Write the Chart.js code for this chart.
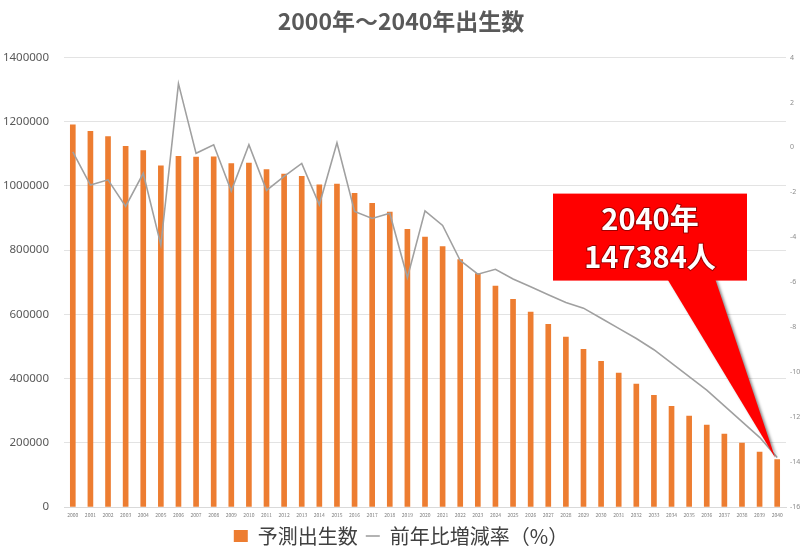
<!DOCTYPE html>
<html lang="ja">
<head>
<meta charset="UTF-8">
<title>2000年～2040年出生数</title>
<script src="https://cdn.jsdelivr.net/npm/chart.js@4.4.1/dist/chart.umd.min.js"></script>
<style>
    html, body { margin: 0; padding: 0; background: #ffffff; }
    #wrap { width: 800px; height: 552px; }
</style>
</head>
<body>
<div id="wrap"><canvas id="birthChart" width="800" height="552"></canvas></div>
<script>
// ===== DATA =====
const years = [
    '2000', '2001', '2002', '2003', '2004', '2005', '2006', '2007', '2008', '2009',
    '2010', '2011', '2012', '2013', '2014', '2015', '2016', '2017', '2018', '2019',
    '2020', '2021', '2022', '2023', '2024', '2025', '2026', '2027', '2028', '2029',
    '2030', '2031', '2032', '2033', '2034', '2035', '2036', '2037', '2038', '2039', '2040'
];

// 予測出生数 (人)
const births = [
    1190547, 1170662, 1153855, 1123610, 1110721, 1062530, 1092674, 1089818, 1091156, 1070035,
    1071304, 1050806, 1037231, 1029816, 1003539, 1005677, 976978, 946146, 918400, 865239,
    840835, 811604, 770759, 727277, 688000, 647000, 607000, 569000, 529000, 491000,
    454000, 417000, 383000, 348000, 314000, 283000, 255000, 227000, 199000, 171000, 147384
];

// 前年比増減率 (%)
const changeRate = [
    -0.2, -1.67, -1.44, -2.62, -1.15, -4.34, 2.84, -0.26, 0.12, -1.94,
    0.12, -1.91, -1.29, -0.71, -2.55, 0.21, -2.85, -3.16, -2.93, -5.79,
    -2.82, -3.47, -5.03, -5.64, -5.42, -5.85, -6.2, -6.55, -6.9, -7.15,
    -7.6, -8.05, -8.5, -9.0, -9.6, -10.2, -10.8, -11.5, -12.2, -12.9, -13.8
];

const leftTicks = [0, 200000, 400000, 600000, 800000, 1000000, 1200000, 1400000];
const rightTicks = [4, 2, 0, -2, -4, -6, -8, -10, -12, -14, -16];

const calloutLines = ['2040年', '147384人'];

// ===== CHART.JS CONFIGURATION =====
Chart.defaults.font.family = '"Noto Sans CJK JP", "Noto Sans", sans-serif';
Chart.defaults.color = '#595959';

// Red speech-bubble callout pointing at the last bar
const calloutPlugin = {
    id: 'callout',
    afterDatasetsDraw(chart) {
        const ctx = chart.ctx;
        const area = chart.chartArea;
        const xScale = chart.scales.x;
        const yScale = chart.scales.y;
        const last = births.length - 1;
        const tipX = xScale.getPixelForValue(last) - 2;
        const tipY = yScale.getPixelForValue(births[last]) - 2;

        const boxW = 194;
        const boxH = 87;
        const boxX = area.right - 39 - boxW;
        const boxY = area.top + 136;

        ctx.save();
        // pointer
        ctx.shadowColor = 'rgba(0, 0, 0, 0.45)';
        ctx.shadowBlur = 3;
        ctx.shadowOffsetX = 2;
        ctx.shadowOffsetY = 1;
        ctx.fillStyle = '#ff0000';
        ctx.beginPath();
        ctx.moveTo(boxX + 114, boxY + boxH - 2);
        ctx.lineTo(boxX + 162, boxY + boxH - 2);
        ctx.lineTo(tipX, tipY);
        ctx.closePath();
        ctx.fill();
        // box
        ctx.shadowColor = 'transparent';
        ctx.fillRect(boxX, boxY, boxW, boxH);

        // text
        ctx.font = 'bold 29px "Noto Sans CJK JP", "Noto Sans", sans-serif';
        ctx.textAlign = 'center';
        ctx.textBaseline = 'middle';
        ctx.lineWidth = 2;
        ctx.strokeStyle = 'rgba(90, 0, 0, 0.6)';
        ctx.fillStyle = '#ffffff';
        calloutLines.forEach((line, i) => {
            const cy = boxY + 25 + i * 38;
            ctx.strokeText(line, boxX + boxW / 2, cy);
            ctx.fillText(line, boxX + boxW / 2, cy);
        });
        ctx.restore();
    }
};

function createBirthChart() {
    const ctx = document.getElementById('birthChart');

    new Chart(ctx, {
        type: 'bar',
        data: {
            labels: years,
            datasets: [
                {
                    type: 'bar',
                    label: '予測出生数',
                    data: births,
                    backgroundColor: '#ed7d31',
                    barThickness: 5,
                    yAxisID: 'y',
                    order: 1,
                    pointStyle: 'rect'
                },
                {
                    type: 'line',
                    label: '前年比増減率（%）',
                    data: changeRate,
                    borderColor: '#a0a0a0',
                    backgroundColor: '#a0a0a0',
                    borderWidth: 1.6,
                    tension: 0,
                    pointRadius: 0,
                    fill: false,
                    yAxisID: 'y1',
                    order: 0,
                    pointStyle: 'line'
                }
            ]
        },
        options: {
            responsive: false,
            animation: false,
            layout: {
                // legend's own bottom gap hangs below the canvas edge
                padding: { left: 2, right: 0, top: 0, bottom: -4 }
            },
            plugins: {
                title: {
                    display: true,
                    text: '2000年～2040年出生数',
                    color: '#595959',
                    font: { size: 23, weight: 'bold' },
                    padding: { top: 7, bottom: 23 }
                },
                legend: {
                    position: 'bottom',
                    labels: {
                        usePointStyle: true,
                        boxWidth: 12,
                        boxHeight: 12,
                        pointStyleWidth: 14,
                        padding: 8,
                        color: '#404040',
                        font: { size: 20 },
                        sort: (a, b) => a.datasetIndex - b.datasetIndex
                    }
                },
                tooltip: { enabled: false }
            },
            scales: {
                x: {
                    afterFit: (axis) => { axis.height = 11; },
                    grid: { display: false, drawTicks: false },
                    border: { display: true, color: '#d9d9d9' },
                    ticks: {
                        autoSkip: false,
                        maxRotation: 0,
                        minRotation: 0,
                        padding: 5,
                        color: '#7f7f7f',
                        font: { size: 5 }
                    }
                },
                y: {
                    position: 'left',
                    min: 0,
                    max: 1400000,
                    afterBuildTicks: (axis) => {
                        axis.ticks = leftTicks.map(v => ({ value: v }));
                    },
                    afterFit: (axis) => { axis.width = 62; },
                    grid: { color: '#e3e3e3', drawTicks: false },
                    border: { display: false },
                    ticks: {
                        padding: 15,
                        color: '#595959',
                        font: { size: 11.5, family: '"Noto Sans", sans-serif' },
                        callback: (value) => String(value)
                    }
                },
                y1: {
                    position: 'right',
                    min: -16,
                    max: 4,
                    afterBuildTicks: (axis) => {
                        axis.ticks = rightTicks.map(v => ({ value: v }));
                    },
                    afterFit: (axis) => { axis.width = 14; },
                    grid: { display: false, drawTicks: false },
                    border: { display: false },
                    ticks: {
                        padding: 4,
                        color: '#8c8c8c',
                        font: { size: 7, family: '"Noto Sans", sans-serif' }
                    }
                }
            }
        },
        plugins: [calloutPlugin]
    });
}

document.addEventListener('DOMContentLoaded', () => {
    createBirthChart();
});
</script>
</body>
</html>
